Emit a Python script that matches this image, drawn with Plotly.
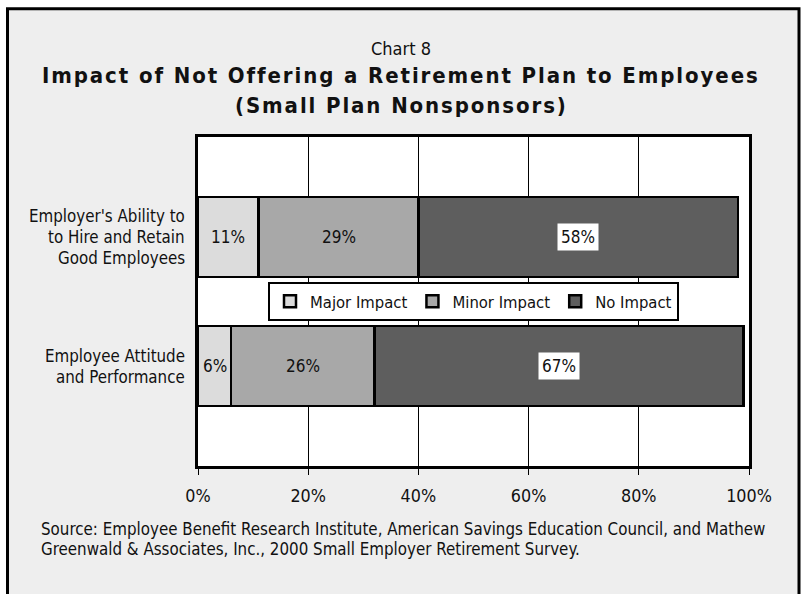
import plotly.graph_objects as go

# ---- data -------------------------------------------------------------
categories = [
    "Employer's Ability to Hire and Retain Good Employees",
    "Employee Attitude and Performance",
]
category_lines = [
    ["Employer's Ability to", "to Hire and Retain", "Good Employees"],
    ["Employee Attitude", "and Performance"],
]
series_names = ["Major Impact", "Minor Impact", "No Impact"]
major_impact = [11, 6]
minor_impact = [29, 26]
no_impact = [58, 67]
x_tick_values = [0, 20, 40, 60, 80, 100]
x_tick_labels = ["0%", "20%", "40%", "60%", "80%", "100%"]

chart_number = "Chart 8"
title_lines = [
    "Impact of Not Offering a Retirement Plan to Employees",
    "(Small Plan Nonsponsors)",
]
source_lines = [
    "Source: Employee Benefit Research Institute, American Savings Education Council, and Mathew",
    "Greenwald & Associates, Inc., 2000 Small Employer Retirement Survey.",
]

# ---- styling ----------------------------------------------------------
series_colors = ["#DCDCDC", "#A8A8A8", "#5E5E5E"]
label_boxes = [None, None, "white"]
NARROW = "DejaVu Sans Condensed, Liberation Sans, sans-serif"
TEXT = "#111111"

W, H = 802, 594
ML, MR, MT, MB = 198, 53, 137, 127.5
PW = W - ML - MR
PH = H - MT - MB


def px_x(px):
    return (px - ML) / PW


def px_y(py):
    return (H - MB - py) / PH


series_values = [major_impact, minor_impact, no_impact]

fig = go.Figure()
for name, vals, col in zip(series_names, series_values, series_colors):
    fig.add_trace(
        go.Bar(
            y=categories,
            x=vals,
            name=name,
            orientation="h",
            width=0.62,
            marker=dict(color=col, line=dict(color="black", width=2.5)),
            hoverinfo="skip",
        )
    )

annotations = []

# value labels centred in each segment
for ci, cat in enumerate(categories):
    base = 0
    for si, vals in enumerate(series_values):
        v = vals[ci]
        box = label_boxes[si]
        annotations.append(
            dict(
                x=base + v / 2,
                y=cat,
                xref="x",
                yref="y",
                text=f"{v}%",
                showarrow=False,
                font=dict(family=NARROW, size=17, color=TEXT),
                bgcolor=box if box else "rgba(0,0,0,0)",
                borderpad=3,
            )
        )
        base += v

# category labels, one line each for tight line spacing
LINE_PITCH = 21
for ci, cat in enumerate(categories):
    lines = category_lines[ci]
    n = len(lines)
    for j, line in enumerate(lines):
        annotations.append(
            dict(
                x=px_x(187),
                y=cat,
                xref="paper",
                yref="y",
                xanchor="right",
                yanchor="middle",
                yshift=((n - 1) / 2 - j) * LINE_PITCH,
                text=line,
                showarrow=False,
                align="right",
                font=dict(family=NARROW, size=16.8, color=TEXT),
            )
        )

# headings
annotations.append(
    dict(x=px_x(401), y=px_y(48.8), xref="paper", yref="paper", text=chart_number,
         showarrow=False, xanchor="center", yanchor="middle",
         font=dict(family=NARROW, size=18, color=TEXT))
)
for text, yy in zip(title_lines, [75.8, 105]):
    annotations.append(
        dict(x=px_x(401), y=px_y(yy), xref="paper", yref="paper",
             text=f'<span style="letter-spacing:1.9px"><b>{text}</b></span>',
             showarrow=False, xanchor="center", yanchor="middle",
             font=dict(family=NARROW, size=22, color=TEXT))
    )

# source note
for text, yy in zip(source_lines, [529.5, 549.5]):
    annotations.append(
        dict(x=px_x(39), y=px_y(yy), xref="paper", yref="paper", text=text,
             showarrow=False, xanchor="left", yanchor="middle",
             font=dict(family=NARROW, size=16.8, color=TEXT))
    )

shapes = [
    # grey panel with black frame
    dict(type="rect", xref="paper", yref="paper", layer="below",
         x0=px_x(7.5), x1=px_x(799), y0=px_y(8.5), y1=px_y(610),
         fillcolor="#EEEEEE", line=dict(color="black", width=3)),
    # white plotting area
    dict(type="rect", xref="x domain", yref="y domain", layer="below",
         x0=0, x1=1, y0=0, y1=1, fillcolor="white", line=dict(width=0)),
]

fig.update_layout(
    width=W,
    height=H,
    margin=dict(l=ML, r=MR, t=MT, b=MB, pad=0),
    paper_bgcolor="white",
    plot_bgcolor="white",
    barmode="stack",
    showlegend=True,
    legend=dict(
        orientation="h",
        x=0.5,
        y=0.5,
        xanchor="center",
        yanchor="middle",
        bgcolor="white",
        bordercolor="black",
        borderwidth=2,
        font=dict(family=NARROW, size=16.5, color=TEXT),
        traceorder="normal",
    ),
    annotations=annotations,
    shapes=shapes,
    xaxis=dict(
        range=[0, 100],
        tickvals=x_tick_values,
        ticktext=x_tick_labels,
        showgrid=True,
        gridcolor="black",
        gridwidth=1,
        zeroline=False,
        showline=True,
        mirror=True,
        linecolor="black",
        linewidth=3,
        ticks="outside",
        ticklen=6,
        tickwidth=1,
        tickcolor="black",
        ticklabelstandoff=6,
        tickfont=dict(family=NARROW, size=17.8, color=TEXT),
        fixedrange=True,
    ),
    yaxis=dict(
        categoryorder="array",
        categoryarray=categories,
        range=[1.774, -0.774],
        showticklabels=False,
        showgrid=False,
        zeroline=False,
        showline=True,
        mirror=True,
        linecolor="black",
        linewidth=3,
        ticks="",
        fixedrange=True,
    ),
)

fig.write_html("out.html")
